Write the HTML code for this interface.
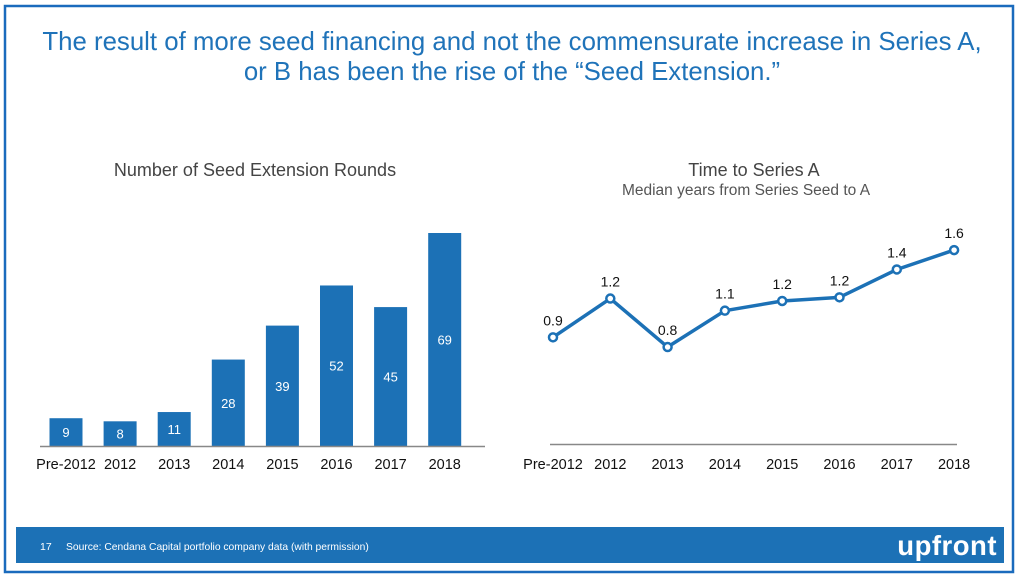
<!DOCTYPE html>
<html><head><meta charset="utf-8"><style>
body{margin:0;width:1017px;height:580px;background:#fff;overflow:hidden;font-family:"Liberation Sans",sans-serif}
</style></head><body>
<svg width="1017" height="580" xmlns="http://www.w3.org/2000/svg" font-family="Liberation Sans, sans-serif">
<rect x="5" y="6" width="1008" height="566" fill="#fff" stroke="#1a6bbd" stroke-width="2.5"/>
<g fill="#1f73b9" font-size="25.8" text-anchor="middle">
<text x="512" y="50">The result of more seed financing and not the commensurate increase in Series A,</text>
<text x="512" y="80">or B has been the rise of the “Seed Extension.”</text>
</g>
<text x="255" y="176" font-size="18" fill="#444" text-anchor="middle">Number of Seed Extension Rounds</text>
<text x="754" y="176" font-size="18" fill="#444" text-anchor="middle">Time to Series A</text>
<text x="746" y="195" font-size="15.5" fill="#555" text-anchor="middle">Median years from Series Seed to A</text>
<g id="bars"></g>
<g id="line"></g>
<rect x="16" y="527" width="988" height="36" fill="#1c71b6"/>
<text x="40" y="550" font-size="10.5" fill="#fff">17</text>
<text x="66" y="550" font-size="10.3" fill="#fff">Source: Cendana Capital portfolio company data (with permission)</text>
<text x="997" y="555" font-size="27.5" font-weight="bold" fill="#fff" text-anchor="end" letter-spacing="0.5">upfront</text>
</svg>
<script>
const categories=["Pre-2012","2012","2013","2014","2015","2016","2017","2018"];
const barValues=[9,8,11,28,39,52,45,69];
const lineValues=[0.88,1.2,0.8,1.1,1.18,1.21,1.44,1.6];
const lineLabels=["0.9","1.2","0.8","1.1","1.2","1.2","1.4","1.6"];
const NS="http://www.w3.org/2000/svg";
function mk(t,a,p){const e=document.createElementNS(NS,t);for(const k in a)e.setAttribute(k,a[k]);p.appendChild(e);return e;}
const bg=document.getElementById('bars');
const bBase=446,bK=213/69,bX0=66,bStep=54.1,bW=33;
const bx=i=>bX0+i*bStep, by=v=>bBase-v*bK;
barValues.forEach((v,i)=>{
 const r=mk('rect',{x:bx(i)-bW/2,y:by(v),width:bW,height:bBase-by(v),fill:'#1c71b6'},bg);
 
 
 const t=mk('text',{x:bx(i),y:by(v)+(bBase-by(v))/2+5,'font-size':13,fill:'#fff','text-anchor':'middle'},bg);
 t.textContent=v;
 
 
 const l=mk('text',{x:bx(i),y:469,'font-size':14.5,fill:'#111','text-anchor':'middle'},bg);
 l.textContent=categories[i];
 
 
});
const ba=mk('line',{x1:40,x2:485,y1:bBase+0.5,y2:bBase+0.5,stroke:'#888','stroke-width':1.5},bg);


const lg=document.getElementById('line');
const lBase=444,lK=121.2,lX0=553,lStep=57.3;
const lx=i=>lX0+i*lStep, ly=v=>lBase-v*lK;
const la=mk('line',{x1:550,x2:957,y1:lBase+0.5,y2:lBase+0.5,stroke:'#888','stroke-width':1.5},lg);


const pl=mk('polyline',{points:lineValues.map((v,i)=>lx(i)+','+ly(v)).join(' '),fill:'none',stroke:'#1c71b6','stroke-width':3.5,'stroke-linejoin':'round'},lg);


lineValues.forEach((v,i)=>{
 const c=mk('circle',{cx:lx(i),cy:ly(v),r:4,fill:'#fff',stroke:'#1c71b6','stroke-width':2.5},lg);
 
 
 const t=mk('text',{x:lx(i),y:ly(v)-12,'font-size':14,fill:'#111','text-anchor':'middle'},lg);
 t.textContent=lineLabels[i];
 
 
 const l=mk('text',{x:lx(i),y:469,'font-size':14.5,fill:'#111','text-anchor':'middle'},lg);
 l.textContent=categories[i];
 
 
});
</script>
</body></html>
